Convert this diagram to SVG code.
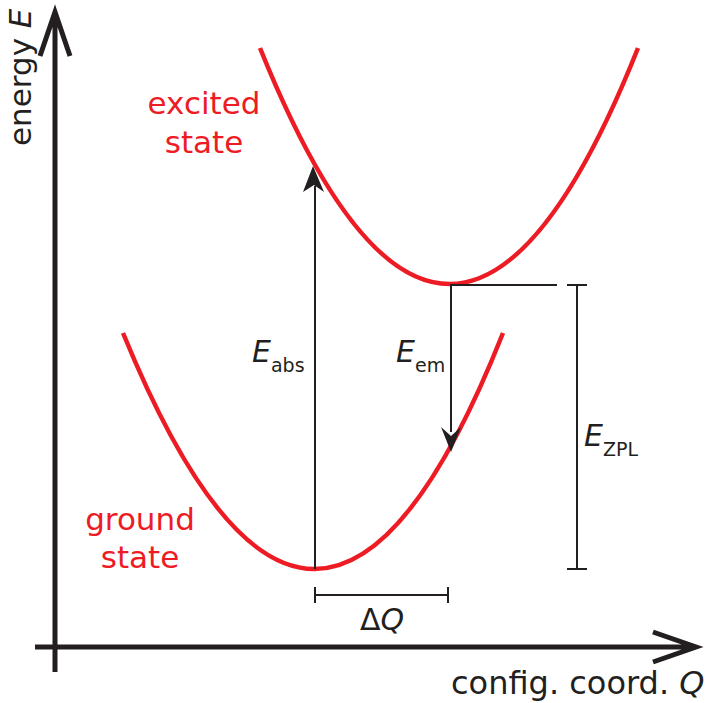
<svg xmlns="http://www.w3.org/2000/svg" width="706" height="703" viewBox="0 0 706 703">
<style>
.axis{stroke:#231f20;stroke-width:5;fill:none}
.curve{stroke:#ed1c24;stroke-width:4.5;fill:none}
.ln{stroke:#231f20;stroke-width:2;fill:none}
.head{fill:#231f20}
text{font-family:"DejaVu Sans",Verdana,sans-serif;fill:#231f20}
.red{fill:#ed1c24;font-size:31px}
.lbl{font-size:30px}
.sub{font-size:19px}
.it{font-style:italic}
</style>
<rect width="706" height="703" fill="#fff"/>
<g id="axes">
<path class="axis" d="M55,672 V12 M40,56 L55,12 L70,56"/>
<path class="axis" d="M35,647 H694 M653,632 L696,647 L653,662"/>
<text x="31" y="146" font-size="31" transform="rotate(-90 31 146)">energy <tspan class="it">E</tspan></text>
<text x="451" y="694" font-size="32">config. coord. <tspan class="it">Q</tspan></text>
</g>
<g id="excited">
<path class="curve" d="M260,48 Q450,520 638,48"/>
<text class="red" x="204" y="114" text-anchor="middle">excited</text>
<text class="red" x="204" y="153" text-anchor="middle">state</text>
</g>
<g id="ground">
<path class="curve" d="M123,333 Q316,805 503,333"/>
<text class="red" x="140" y="530" text-anchor="middle">ground</text>
<text class="red" x="140" y="568" text-anchor="middle">state</text>
</g>
<g id="connectors">
<path class="ln" d="M315,569 V186"/>
<path class="head" d="M313,166 L324,192 L314,185 L303,192 Z"/>
<path class="ln" d="M451,285 V432"/>
<path class="head" d="M451,452 L441,427 L451,436 L461,427 Z"/>
<path class="ln" d="M450,285 H557"/>
<path class="ln" d="M577,285 V569 M567,285 H587 M567,569 H587"/>
<path class="ln" d="M315,595 H448 M315,587 V603 M448,587 V603"/>
</g>
<g id="labels">
<text class="lbl" x="252" y="362"><tspan class="it">E</tspan><tspan class="sub" dy="10">abs</tspan></text>
<text class="lbl" x="396" y="362"><tspan class="it">E</tspan><tspan class="sub" dy="10">em</tspan></text>
<text class="lbl" x="584" y="446"><tspan class="it">E</tspan><tspan class="sub" dy="10">ZPL</tspan></text>
<text class="lbl" x="382" y="630" text-anchor="middle" font-size="29">Δ<tspan class="it">Q</tspan></text>
</g>
</svg>
